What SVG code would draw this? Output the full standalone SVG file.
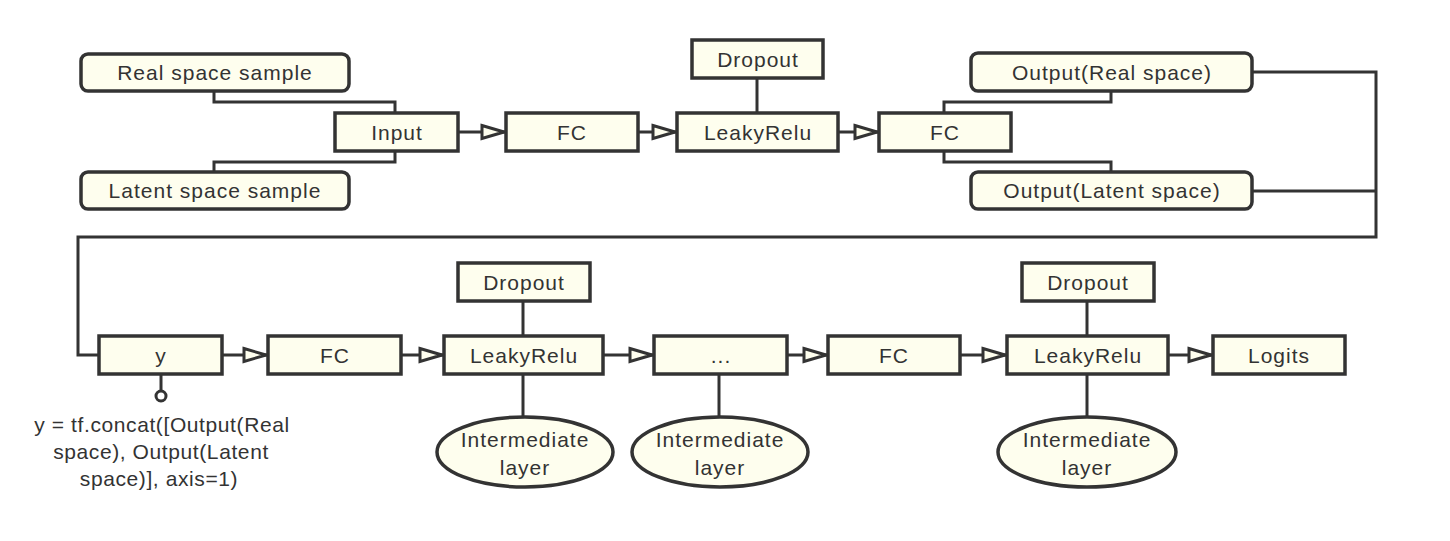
<svg xmlns="http://www.w3.org/2000/svg" width="1450" height="541" viewBox="0 0 1450 541">
<style>
.box{fill:#fefeee;stroke:#333;stroke-width:3.5}
.t{font-family:"Liberation Sans",Arial,sans-serif;font-size:21px;fill:#333;text-anchor:middle;letter-spacing:1px}
.note{letter-spacing:0.6px}
.ln{fill:none;stroke:#333;stroke-width:3}
</style>
<defs>
<marker id="arr" viewBox="0 0 28 18" refX="27" refY="9" markerWidth="28" markerHeight="18" markerUnits="userSpaceOnUse" orient="auto">
<path d="M3,2.5 L25,9 L3,15.5 Z" fill="#fefeee" stroke="#333" stroke-width="3" stroke-linejoin="miter"/>
</marker>
</defs>
<rect width="1450" height="541" fill="#fff"/>

<g id="connectors">
<path class="ln" d="M214,91 V102 H395 V113"/>
<path class="ln" d="M395,151 V162 H214 V172"/>
<path class="ln" d="M944,113 V102 H1111 V91"/>
<path class="ln" d="M944,151 V162 H1111 V172"/>
<path class="ln" d="M757,78 V113"/>
<path class="ln" d="M458,132 H506" marker-end="url(#arr)"/>
<path class="ln" d="M638,132 H677" marker-end="url(#arr)"/>
<path class="ln" d="M838,132 H879" marker-end="url(#arr)"/>
<path class="ln" d="M1252,72 H1376 V237 H78 V355 H99"/>
<path class="ln" d="M1252,191 H1376"/>
<path class="ln" d="M222,355 H268" marker-end="url(#arr)"/>
<path class="ln" d="M401,355 H444" marker-end="url(#arr)"/>
<path class="ln" d="M603,355 H654" marker-end="url(#arr)"/>
<path class="ln" d="M787,355 H828" marker-end="url(#arr)"/>
<path class="ln" d="M960,355 H1007" marker-end="url(#arr)"/>
<path class="ln" d="M1168,355 H1213" marker-end="url(#arr)"/>
<path class="ln" d="M523,301 V336"/>
<path class="ln" d="M523,374 V417"/>
<path class="ln" d="M719,374 V417"/>
<path class="ln" d="M1087,301 V336"/>
<path class="ln" d="M1087,374 V417"/>
<path class="ln" d="M161,374 V391"/>
<circle cx="161" cy="396" r="5" fill="#fff" stroke="#333" stroke-width="3"/>
</g>

<g id="real-sample"><rect class="box" x="81" y="54" width="268" height="37" rx="7"/><text class="t" x="215" y="80">Real space sample</text></g>
<g id="latent-sample"><rect class="box" x="81" y="172" width="268" height="37" rx="7"/><text class="t" x="215" y="198">Latent space sample</text></g>
<g id="input"><rect class="box" x="335" y="113" width="123" height="38"/><text class="t" x="397" y="139.5">Input</text></g>
<g id="fc1"><rect class="box" x="506" y="113" width="132" height="38"/><text class="t" x="572" y="139.5">FC</text></g>
<g id="dropout1"><rect class="box" x="692" y="40" width="131" height="38"/><text class="t" x="758" y="66.5">Dropout</text></g>
<g id="leakyrelu1"><rect class="box" x="677" y="113" width="161" height="38"/><text class="t" x="758" y="139.5">LeakyRelu</text></g>
<g id="fc2"><rect class="box" x="879" y="113" width="132" height="38"/><text class="t" x="945" y="139.5">FC</text></g>
<g id="out-real"><rect class="box" x="971" y="53" width="281" height="38" rx="7"/><text class="t" x="1112" y="79.5">Output(Real space)</text></g>
<g id="out-latent"><rect class="box" x="971" y="172" width="281" height="37" rx="7"/><text class="t" x="1112" y="198">Output(Latent space)</text></g>

<g id="y"><rect class="box" x="99" y="336" width="123" height="38"/><text class="t" x="161" y="362.5">y</text></g>
<g id="concat-note">
<text class="t note" x="162" y="432">y = tf.concat([Output(Real</text>
<text class="t note" x="161" y="459">space), Output(Latent</text>
<text class="t note" x="159" y="486">space)], axis=1)</text>
</g>
<g id="fc3"><rect class="box" x="268" y="336" width="133" height="38"/><text class="t" x="335" y="362.5">FC</text></g>
<g id="dropout2"><rect class="box" x="458" y="263" width="132" height="38"/><text class="t" x="524" y="289.5">Dropout</text></g>
<g id="leakyrelu2"><rect class="box" x="444" y="336" width="159" height="38"/><text class="t" x="524" y="362.5">LeakyRelu</text></g>
<g id="inter1"><ellipse class="box" cx="525" cy="452" rx="88" ry="35"/><text class="t" x="525" y="447">Intermediate</text><text class="t" x="525" y="475">layer</text></g>
<g id="dots"><rect class="box" x="654" y="336" width="133" height="38"/><text class="t" x="721" y="362.5">...</text></g>
<g id="inter2"><ellipse class="box" cx="720" cy="452" rx="88" ry="35"/><text class="t" x="720" y="447">Intermediate</text><text class="t" x="720" y="475">layer</text></g>
<g id="fc4"><rect class="box" x="828" y="336" width="132" height="38"/><text class="t" x="894" y="362.5">FC</text></g>
<g id="dropout3"><rect class="box" x="1022" y="263" width="132" height="38"/><text class="t" x="1088" y="289.5">Dropout</text></g>
<g id="leakyrelu3"><rect class="box" x="1007" y="336" width="161" height="38"/><text class="t" x="1088" y="362.5">LeakyRelu</text></g>
<g id="inter3"><ellipse class="box" cx="1087" cy="452" rx="89" ry="35"/><text class="t" x="1087" y="447">Intermediate</text><text class="t" x="1087" y="475">layer</text></g>
<g id="logits"><rect class="box" x="1213" y="336" width="132" height="38"/><text class="t" x="1279" y="362.5">Logits</text></g>
</svg>
